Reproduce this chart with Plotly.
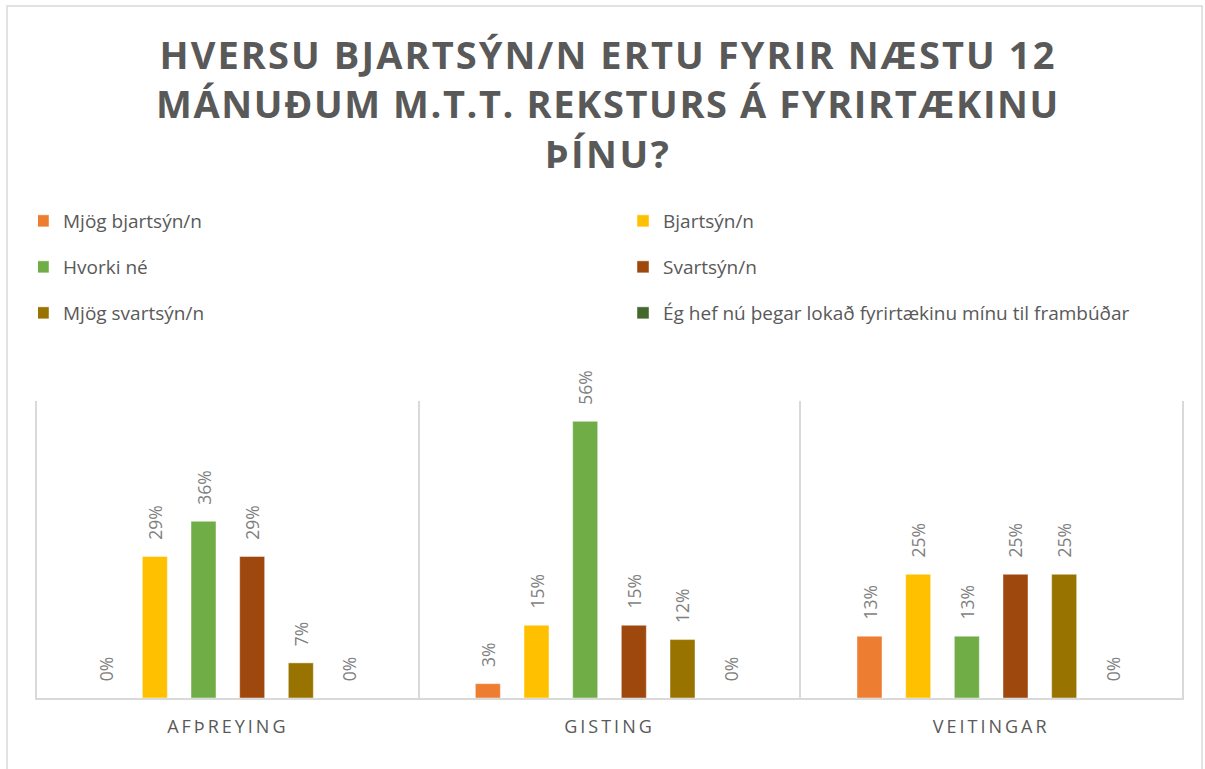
import plotly.graph_objects as go

categories = ["AFÞREYING", "GISTING", "VEITINGAR"]
series_names = [
    "Mjög bjartsýn/n",
    "Bjartsýn/n",
    "Hvorki né",
    "Svartsýn/n",
    "Mjög svartsýn/n",
    "Ég hef nú þegar lokað fyrirtækinu mínu til frambúðar",
]
mjog_bjartsyn = [0.0, 2.9, 12.5]
bjartsyn = [28.6, 14.7, 25.0]
hvorki_ne = [35.7, 55.9, 12.5]
svartsyn = [28.6, 14.7, 25.0]
mjog_svartsyn = [7.1, 11.8, 25.0]
lokad = [0.0, 0.0, 0.0]
series_values = [mjog_bjartsyn, bjartsyn, hvorki_ne, svartsyn, mjog_svartsyn, lokad]
colors = ["#ED7D31", "#FFC000", "#70AD47", "#9E480E", "#997300", "#43682B"]

title_lines = [
    "HVERSU BJARTSÝN/N ERTU FYRIR NÆSTU 12",
    "MÁNUÐUM M.T.T. REKSTURS Á FYRIRTÆKINU",
    "ÞÍNU?",
]
title_spacing = [2.1, 1.6, 2.5]

W, H = 1205, 769
ML, MR, MT, MB = 37, 23, 401, 71

fig = go.Figure()
legend_ids = ["legend", "legend", "legend2", "legend2", "legend3", "legend3"]
legend_widths = [570, 480, 570, 480, 570, 480]
for name, vals, col, lg, lw in zip(series_names, series_values, colors, legend_ids, legend_widths):
    fig.add_trace(go.Bar(
        x=categories, y=vals, name=name,
        marker=dict(color=col, line=dict(color="rgba(255,255,255,0.6)", width=0.75)),
        texttemplate="\u00a0\u00a0\u00a0%{y:.0f}%",
        textposition="outside", textangle=-90, constraintext="none",
        textfont=dict(family="Open Sans", size=17.5, color="#7f7f7f"),
        cliponaxis=False,
        legend=lg, legendwidth=lw,
        hoverinfo="skip",
    ))

def styled(t, ls):
    return "<span style='letter-spacing:%spx'>%s</span>" % (ls, t)

pw = W - ML - MR
ph = H - MT - MB

def px_to_paper_x(px):
    return (px - ML) / pw

def px_to_paper_y(py):
    return (H - MB - py) / ph

leg_common = dict(orientation="h", xref="container", yref="container",
                  xanchor="left", yanchor="middle",
                  font=dict(family="Open Sans", size=19, color="#595959"),
                  entrywidthmode="pixels", indentation=-15,
                  bgcolor="rgba(0,0,0,0)", borderwidth=0)

fig.update_layout(
    width=W, height=H,
    margin=dict(l=ML, r=MR, t=MT, b=MB, autoexpand=False),
    paper_bgcolor="white", plot_bgcolor="white",
    barmode="group", bargap=0.235, bargroupgap=0.486,
    title=dict(
        text="<b>" + "<br>".join(styled(s, ls) for s, ls in zip(title_lines, title_spacing)) + "</b>",
        x=608 / W, xanchor="center", xref="container",
        y=1 - 69 / H, yanchor="top", yref="container",
        font=dict(family="Open Sans", size=38, color="#595959"),
    ),
    xaxis=dict(
        showline=True, linecolor="#d9d9d9", linewidth=1.5,
        showgrid=True, gridcolor="#d9d9d9", gridwidth=1.5,
        tickson="boundaries", ticks="",
        tickfont=dict(family="Open Sans", size=18, color="#595959"),
        tickvals=categories,
        ticktext=[styled(c, 3) for c in categories],
        ticklabelstandoff=12,
        range=[-0.5, 2.5],
    ),
    yaxis=dict(
        range=[0, 60], showticklabels=False, showgrid=False, zeroline=False,
        showline=True, mirror=True, linecolor="#d9d9d9", linewidth=1.5, ticks="",
    ),
    legend=dict(x=38 / W, y=1 - 221 / H, **leg_common),
    legend2=dict(x=38 / W, y=1 - 267 / H, **leg_common),
    legend3=dict(x=38 / W, y=1 - 313 / H, **leg_common),
    showlegend=True,
    shapes=[dict(
        type="rect", xref="paper", yref="paper",
        x0=px_to_paper_x(7), x1=px_to_paper_x(1202),
        y0=px_to_paper_y(790), y1=px_to_paper_y(6),
        line=dict(color="#d9d9d9", width=1.5), fillcolor="rgba(0,0,0,0)",
        layer="above",
    )],
)

fig.write_html("out.html", config={"displayModeBar": False},
               post_script="document.body.style.margin='0px';document.body.style.overflow='hidden';")
